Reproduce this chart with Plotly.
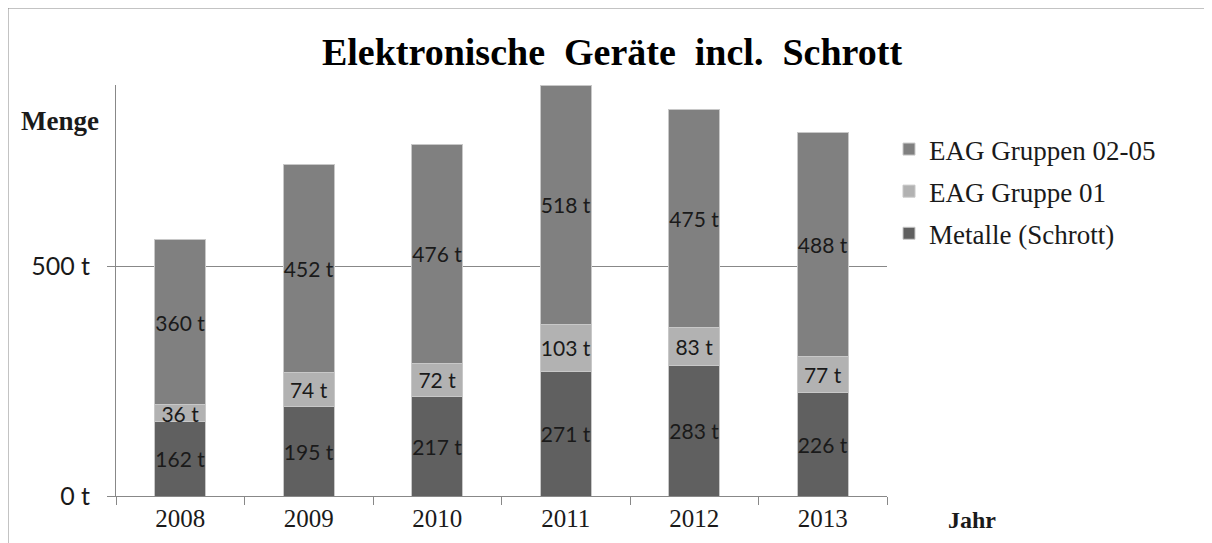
import plotly.graph_objects as go

years = ["2008", "2009", "2010", "2011", "2012", "2013"]
metalle = [162, 195, 217, 271, 283, 226]
gruppe01 = [36, 74, 72, 103, 83, 77]
gruppen0205 = [360, 452, 476, 518, 475, 488]

series = [
    ("Metalle (Schrott)", metalle, "#606060", 3),
    ("EAG Gruppe 01", gruppe01, "#b2b2b2", 2),
    ("EAG Gruppen 02-05", gruppen0205, "#808080", 1),
]

OFF = 8  # page body offset seen in the screenshot
W, H = 1212 - OFF, 543 - OFF
# target pixel positions (screenshot coords)
AX_L, AX_R, AX_T, AX_B = 116, 887, 85, 496
L = AX_L - OFF
T = AX_T - OFF
R = W - (AX_R - OFF)
B = H - (AX_B - OFF)
pw, ph = W - L - R, H - T - B


def px_x(p):
    return (p - OFF - L) / pw


def px_y(p):
    return (H - B - (p - OFF)) / ph


fig = go.Figure()
for name, vals, col, rank in series:
    fig.add_trace(go.Bar(
        x=years, y=vals, name=name,
        marker=dict(color=col, line=dict(color="#c8c8c8", width=1)),
        width=0.4,
        texttemplate="%{y} t",
        textposition="inside",
        insidetextanchor="middle",
        textangle=0,
        constraintext="none",
        textfont=dict(family="Lato", size=21, color="#1a1a1a"),
        legendgroup=name,
        legendrank=rank,
        hoverinfo="skip",
    ))

bx0, by0, bx1, by1 = px_x(7), px_y(700), px_x(1400), px_y(7)
border_path = f"M {bx0},{by0} L {bx0},{by1} L {bx1},{by1}"

fig.update_layout(
    width=W, height=H,
    margin=dict(l=L, r=R, t=T, b=B, pad=0),
    barmode="stack",
    plot_bgcolor="white", paper_bgcolor="white",
    showlegend=True,
    legend=dict(
        x=px_x(889), y=px_y(125), xanchor="left", yanchor="top",
        traceorder="grouped", tracegroupgap=4,
        font=dict(family="Liberation Serif", size=27, color="#1a1a1a"),
        bgcolor="rgba(0,0,0,0)",
    ),
    title=dict(
        text="<b>Elektronische  Geräte  incl.  Schrott</b>",
        x=(612 - OFF) / W, xref="container", xanchor="center",
        y=1 - (52 - OFF) / H, yref="container", yanchor="middle",
        font=dict(family="Liberation Serif", size=38, color="#000000"),
    ),
    xaxis=dict(
        type="category",
        showline=True, linecolor="#888888", linewidth=1,
        ticks="outside", tickson="boundaries", ticklen=8, tickcolor="#888888",
        tickfont=dict(family="Liberation Serif", size=25, color="#1a1a1a"),
        showgrid=False,
    ),
    yaxis=dict(
        range=[0, 894],
        tickvals=[0, 500], ticktext=["0 t", "500 t"],
        showline=True, linecolor="#888888", linewidth=1,
        ticks="outside", ticklen=8, tickcolor="#888888",
        ticklabelstandoff=12,
        tickfont=dict(family="Lato", size=25, color="#1a1a1a"),
        showgrid=True, gridcolor="#888888", gridwidth=1,
        zeroline=False,
    ),
    annotations=[
        dict(text="<b>Menge</b>", xref="paper", yref="paper",
             x=px_x(60), y=px_y(121), xanchor="center", yanchor="middle",
             showarrow=False,
             font=dict(family="Liberation Serif", size=27, color="#1a1a1a")),
        dict(text="<b>Jahr</b>", xref="paper", yref="paper",
             x=px_x(972), y=px_y(520), xanchor="center", yanchor="middle",
             showarrow=False,
             font=dict(family="Liberation Serif", size=24, color="#1a1a1a")),
    ],
    shapes=[
        dict(type="path", xref="paper", yref="paper", path=border_path,
             line=dict(color="#888888", width=3), layer="above"),
    ],
)

fig.write_html("out.html")
